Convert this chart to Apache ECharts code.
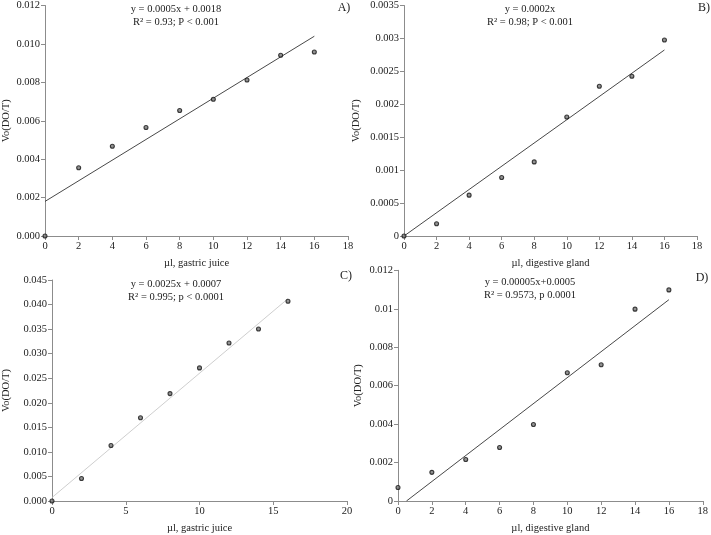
<!DOCTYPE html>
<html><head><meta charset="utf-8">
<script src="https://cdn.jsdelivr.net/npm/echarts@6/dist/echarts.min.js"></script>
<style>html,body{margin:0;padding:0;background:#fff}#c{width:711px;height:535px}</style>
</head><body><div id="c"></div>
<script>
// ---- data ----
const xVals = [0, 2, 4, 6, 8, 10, 12, 14, 16];
const yA = [0, 0.00355, 0.00467, 0.00565, 0.00653, 0.00712, 0.00812, 0.00941, 0.00958];
const yB = [0, 0.000186, 0.00062, 0.000888, 0.001125, 0.001806, 0.002275, 0.002426, 0.002976];
const yC = [0, 0.00459, 0.0113, 0.01695, 0.02187, 0.0271, 0.03217, 0.03503, 0.04067];
const yD = [0.0007, 0.00149, 0.00216, 0.00278, 0.00398, 0.00667, 0.00709, 0.00998, 0.01098];
const trendA = [[0, 0.0018], [16, 0.0104]];
const trendB = [[0, 0], [16, 0.002825]];
const trendC = [[0, 0.0007], [16, 0.0412]];
const trendD = [[0.5, 0], [16, 0.01047]];
const xTicksAB = ['0','2','4','6','8','10','12','14','16','18'];
const xTicksC = ['0','5','10','15','20'];
const yTicksA = ['0.000','0.002','0.004','0.006','0.008','0.010','0.012'];
const yTicksB = ['0','0.0005','0.001','0.0015','0.002','0.0025','0.003','0.0035'];
const yTicksC = ['0.000','0.005','0.010','0.015','0.020','0.025','0.030','0.035','0.040','0.045'];
const yTicksD = ['0','0.002','0.004','0.006','0.008','0.01','0.012'];
const xNames = ['µl, gastric juice', 'µl, digestive gland', 'µl, gastric juice', 'µl, digestive gland'];
const yName = 'Vo(DO/T)';
const eqs = [
  ['y = 0.0005x + 0.0018', 'R² = 0.93; P < 0.001'],
  ['y = 0.0002x', 'R² = 0.98; P < 0.001'],
  ['y = 0.0025x + 0.0007', 'R² = 0.995; p < 0.0001'],
  ['y = 0.00005x+0.0005', 'R² = 0.9573, p 0.0001']
];
const panelLabels = ['A)', 'B)', 'C)', 'D)'];

// ---- layout ----
const FONT = '"Liberation Serif", "Times New Roman", serif';
const grids = [
  {left: 41, top: 4.5, width: 307, height: 231.5},
  {left: 404, top: 4.7, width: 293, height: 231.3},
  {left: 46, top: 280, width: 301, height: 225},
  {left: 398, top: 270.3, width: 309, height: 234}
];
const xCfg = [
  {max: 18, step: 2, labels: xTicksAB, nameGap: 22},
  {max: 18, step: 2, labels: xTicksAB, nameGap: 22},
  {max: 20, step: 5, labels: xTicksC, nameGap: 22},
  {max: 18, step: 2, labels: xTicksAB, nameGap: 22}
];
const yCfg = [
  {max: 0.012, step: 0.002, labels: yTicksA, nameGap: 33},
  {max: 0.0035, step: 0.0005, labels: yTicksB, nameGap: 42},
  {max: 0.045, step: 0.005, labels: yTicksC, nameGap: 40},
  {max: 0.012, step: 0.002, labels: yTicksD, nameGap: 34}
];
const ys = [yA, yB, yC, yD];
const trends = [trendA, trendB, trendC, trendD];
const trendColors = ['#333', '#333', '#c8c8c8', '#333'];
const eqPos = [[176, 3], [530, 3], [176, 278], [530, 276]];
const labPos = [[344, 2], [704, 2], [346, 270], [702, 272]];

const axisLine = {show: true, lineStyle: {color: '#8c8c8c', width: 1}};
const axisTick = {show: true, inside: false, length: 4, lineStyle: {color: '#8c8c8c'}};

const option = {
  animation: false,
  backgroundColor: '#fff',
  grid: grids.map(g => Object.assign({containLabel: false}, g)),
  xAxis: xCfg.map((c, i) => ({
    type: 'value', gridIndex: i, min: 0, max: c.max, interval: c.step,
    splitLine: {show: false}, axisLine, axisTick,
    axisLabel: {fontFamily: FONT, fontSize: 10.5, color: '#222', margin: 5,
      formatter: v => c.labels[Math.round(v / c.step)]},
    name: xNames[i], nameLocation: 'middle', nameGap: c.nameGap,
    nameTextStyle: {fontFamily: FONT, fontSize: 10.5, color: '#222'}
  })),
  yAxis: yCfg.map((c, i) => ({
    type: 'value', gridIndex: i, min: 0, max: c.max, interval: c.step,
    splitLine: {show: false}, axisLine, axisTick,
    axisLabel: {fontFamily: FONT, fontSize: 10.5, color: '#222', margin: 5,
      formatter: v => c.labels[Math.round(v / c.step)]},
    name: yName, nameLocation: 'middle', nameGap: c.nameGap, nameRotate: 90,
    nameTextStyle: {fontFamily: FONT, fontSize: 10.5, color: '#222'}
  })),
  series: [].concat(
    trends.map((t, i) => ({
      type: 'line', xAxisIndex: i, yAxisIndex: i, data: t, symbol: 'none',
      lineStyle: {color: trendColors[i], width: 0.9}, silent: true, z: 2
    })),
    ys.map((y, i) => ({
      type: 'scatter', xAxisIndex: i, yAxisIndex: i,
      data: xVals.map((x, k) => [x, y[k]]),
      symbol: 'circle', symbolSize: 4,
      itemStyle: {color: '#777', borderColor: '#111', borderWidth: 1.1}, z: 3
    }))
  ),
  graphic: [].concat(
    eqs.map((e, i) => ({
      type: 'text', x: eqPos[i][0], y: eqPos[i][1],
      style: {text: e.join('\n'), font: '10.5px ' + FONT, fill: '#222', align: 'center', verticalAlign: 'top', lineHeight: 12.5}
    })),
    panelLabels.map((l, i) => ({
      type: 'text', x: labPos[i][0], y: labPos[i][1],
      style: {text: l, font: '12px ' + FONT, fill: '#222', align: 'center', verticalAlign: 'top'}
    }))
  )
};
const chart = echarts.init(document.getElementById('c'), null, {renderer: 'canvas'});
chart.setOption(option);
</script>
</body></html>
